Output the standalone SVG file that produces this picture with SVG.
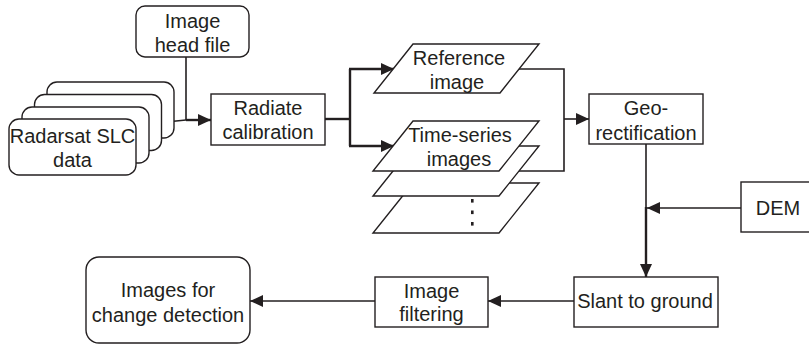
<svg xmlns="http://www.w3.org/2000/svg" width="809" height="344" viewBox="0 0 809 344">
  <style>
    .box { fill: #fff; stroke: #231f20; stroke-width: 1.4; }
    .lbl { font-family: "Liberation Sans", Arial, sans-serif; font-size: 20px; fill: #231f20; text-anchor: middle; }
    .wire { fill: none; stroke: #231f20; stroke-width: 1.6; }
    .bold { fill: none; stroke: #231f20; stroke-width: 2.4; }
  </style>
  <defs>
    <marker id="arrow" markerUnits="userSpaceOnUse" markerWidth="14" markerHeight="12" refX="13" refY="6" orient="auto">
      <path d="M0,0 L13,6 L0,12 Z" fill="#231f20"/>
    </marker>
  </defs>
  <rect width="809" height="344" fill="#fff"/>

  <!-- connectors -->
  <g id="connectors">
    <line class="wire" x1="186" y1="57" x2="186" y2="120"/>
    <polyline class="wire" points="161,122.5 186,120"/>
    <line class="bold" x1="186" y1="120" x2="211" y2="120" marker-end="url(#arrow)"/>
    <polyline class="bold" points="325,119 350,119"/>
    <polyline class="bold" points="350,69 350,146"/>
    <line class="bold" x1="349" y1="69" x2="394" y2="69" marker-end="url(#arrow)"/>
    <line class="bold" x1="349" y1="146" x2="394" y2="146" marker-end="url(#arrow)"/>
    <polyline class="wire" points="519,69 564,69 564,171 519,171"/>
    <line class="wire" x1="564" y1="119" x2="589" y2="119" marker-end="url(#arrow)"/>
    <line class="wire" x1="646" y1="144" x2="646" y2="208"/>
    <line class="bold" x1="646" y1="207" x2="646" y2="277" marker-end="url(#arrow)"/>
    <line class="wire" x1="741" y1="208" x2="647" y2="208" marker-end="url(#arrow)"/>
    <line class="wire" x1="574" y1="301" x2="488" y2="301" marker-end="url(#arrow)"/>
    <line class="wire" x1="375" y1="301" x2="250" y2="301" marker-end="url(#arrow)"/>
  </g>

  <!-- Image head file -->
  <g id="head-file">
    <rect class="box" x="136" y="6" width="113" height="51" rx="9"/>
    <text class="lbl" x="192.5" y="28">Image</text>
    <text class="lbl" x="192.5" y="52">head file</text>
  </g>

  <!-- Radarsat SLC data stack -->
  <g id="slc-data">
    <rect class="box" x="47" y="82" width="127" height="56" rx="10"/>
    <rect class="box" x="34.5" y="94.5" width="127" height="56" rx="10"/>
    <rect class="box" x="22" y="107" width="127" height="56" rx="10"/>
    <rect class="box" x="9" y="119" width="127" height="56" rx="10"/>
    <text class="lbl" x="72.5" y="143">Radarsat SLC</text>
    <text class="lbl" x="72.5" y="167">data</text>
  </g>

  <!-- Radiate calibration -->
  <g id="radiate">
    <rect class="box" x="211" y="94" width="114" height="51"/>
    <text class="lbl" x="268" y="115">Radiate</text>
    <text class="lbl" x="268" y="139">calibration</text>
  </g>

  <!-- Reference image -->
  <g id="reference">
    <polygon class="box" points="413,44 539,44 500,93 374,93"/>
    <text class="lbl" x="459" y="65">Reference</text>
    <text class="lbl" x="457" y="89">image</text>
  </g>

  <!-- Time-series images stack -->
  <g id="time-series">
    <polygon class="box" points="413,183 539,183 499,233 373,233"/>
    <polygon class="box" points="413,146 539,146 499,196 373,196"/>
    <polygon class="box" points="413,121 539,121 499,171 373,171"/>
    <text class="lbl" x="460" y="142">Time-series</text>
    <text class="lbl" x="459" y="166">images</text>
    <rect x="471" y="199" width="2.6" height="3.6" fill="#231f20"/>
    <rect x="471" y="210.5" width="2.6" height="3.6" fill="#231f20"/>
    <rect x="471" y="222" width="2.6" height="3.6" fill="#231f20"/>
  </g>

  <!-- Geo-rectification -->
  <g id="geo">
    <rect class="box" x="589" y="94" width="114" height="50"/>
    <text class="lbl" x="646" y="115">Geo-</text>
    <text class="lbl" x="646" y="140">rectification</text>
  </g>

  <!-- DEM -->
  <g id="dem">
    <rect class="box" x="741" y="182" width="80" height="50"/>
    <text class="lbl" x="778" y="215">DEM</text>
  </g>

  <!-- Slant to ground -->
  <g id="slant">
    <rect class="box" x="574" y="277" width="144" height="50"/>
    <text class="lbl" x="645" y="308">Slant to ground</text>
  </g>

  <!-- Image filtering -->
  <g id="filtering">
    <rect class="box" x="375" y="277" width="113" height="50"/>
    <text class="lbl" x="431.5" y="298">Image</text>
    <text class="lbl" x="431.5" y="321">filtering</text>
  </g>

  <!-- Output images -->
  <g id="output">
    <rect class="box" x="86" y="257" width="164" height="86" rx="13"/>
    <text class="lbl" x="168" y="297">Images for</text>
    <text class="lbl" x="168" y="322">change detection</text>
  </g>
</svg>
